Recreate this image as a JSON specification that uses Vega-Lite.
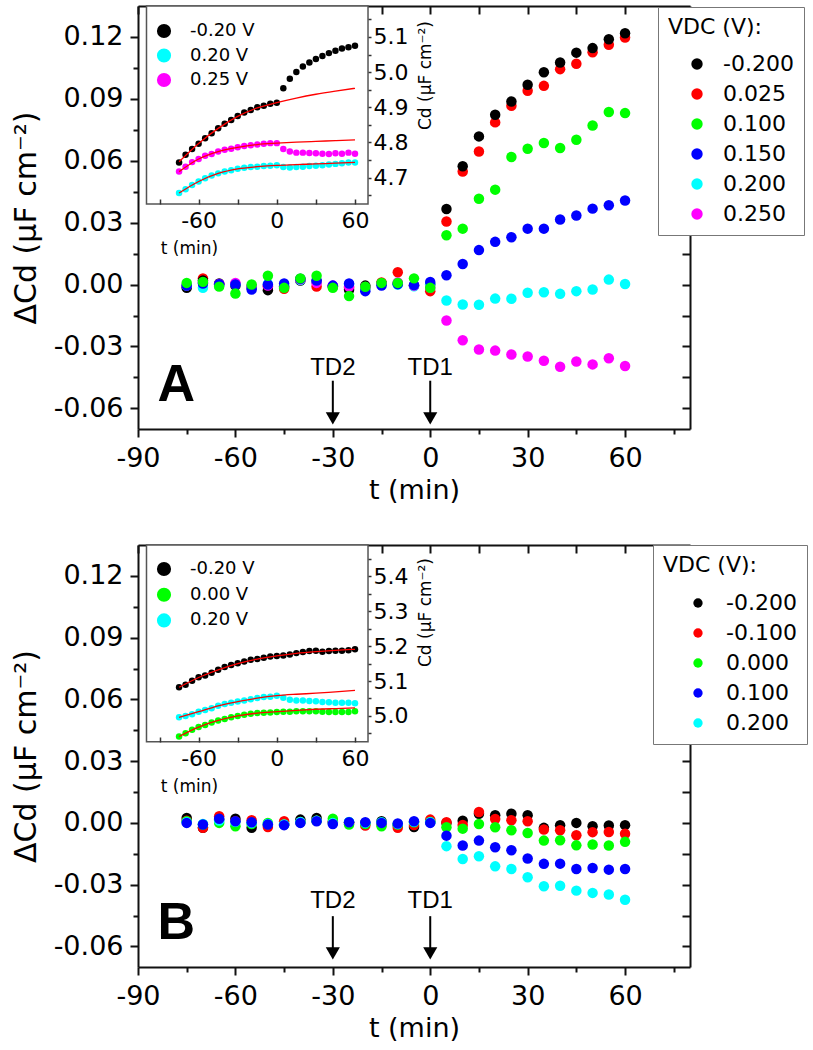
{
"$schema":"https://vega.github.io/schema/vega-lite/v6.json",
"background":"white",
"padding":{"left":11,"top":5,"right":0,"bottom":0},
"config":{"font":"DejaVu Sans","view":{"stroke":null},
"axis":{"labelFont":"DejaVu Sans","titleFont":"DejaVu Sans","labelColor":"#000","titleColor":"#000","domainColor":"#111","tickColor":"#111","grid":false,"titleFontWeight":"normal"},
"legend":{"labelFont":"DejaVu Sans","titleFont":"DejaVu Sans","labelColor":"#000","titleColor":"#000"}},
"datasets":{
"mainA":[
{"t":-75,"s":"0.025","c":-0.001},{"t":-70,"s":"0.025","c":0.003},{"t":-65,"s":"0.025","c":0},{"t":-60,"s":"0.025","c":0.0003},{"t":-55,"s":"0.025","c":-0.0015},{"t":-50,"s":"0.025","c":-0.001},{"t":-45,"s":"0.025","c":-0.002},{"t":-40,"s":"0.025","c":0.0025},{"t":-35,"s":"0.025","c":-0.001},{"t":-30,"s":"0.025","c":-0.0008},{"t":-25,"s":"0.025","c":-0.0015},{"t":-20,"s":"0.025","c":-0.0015},{"t":-15,"s":"0.025","c":0.001},{"t":-10,"s":"0.025","c":0.006},{"t":-5,"s":"0.025","c":-0.0005},{"t":0,"s":"0.025","c":-0.0032},{"t":5,"s":"0.025","c":0.0306},{"t":10,"s":"0.025","c":0.0548},{"t":15,"s":"0.025","c":0.0645},{"t":20,"s":"0.025","c":0.0786},{"t":25,"s":"0.025","c":0.0866},{"t":30,"s":"0.025","c":0.0939},{"t":35,"s":"0.025","c":0.0963},{"t":40,"s":"0.025","c":0.1044},{"t":45,"s":"0.025","c":0.107},{"t":50,"s":"0.025","c":0.1126},{"t":55,"s":"0.025","c":0.1162},{"t":60,"s":"0.025","c":0.1197},
{"t":-75,"s":"-0.200","c":-0.0016},{"t":-70,"s":"-0.200","c":0.002},{"t":-65,"s":"-0.200","c":0.0005},{"t":-60,"s":"-0.200","c":-0.0005},{"t":-55,"s":"-0.200","c":-0.001},{"t":-50,"s":"-0.200","c":-0.0027},{"t":-45,"s":"-0.200","c":-0.001},{"t":-40,"s":"-0.200","c":0.002},{"t":-35,"s":"-0.200","c":0.0015},{"t":-30,"s":"-0.200","c":-0.001},{"t":-25,"s":"-0.200","c":-0.0025},{"t":-20,"s":"-0.200","c":-0.0005},{"t":-15,"s":"-0.200","c":0.0005},{"t":-10,"s":"-0.200","c":0.0005},{"t":-5,"s":"-0.200","c":-0.0005},{"t":0,"s":"-0.200","c":0},{"t":5,"s":"-0.200","c":0.0366},{"t":10,"s":"-0.200","c":0.0573},{"t":15,"s":"-0.200","c":0.0718},{"t":20,"s":"-0.200","c":0.0823},{"t":25,"s":"-0.200","c":0.0887},{"t":30,"s":"-0.200","c":0.0968},{"t":35,"s":"-0.200","c":0.1029},{"t":40,"s":"-0.200","c":0.1076},{"t":45,"s":"-0.200","c":0.1124},{"t":50,"s":"-0.200","c":0.1146},{"t":55,"s":"-0.200","c":0.1189},{"t":60,"s":"-0.200","c":0.1218},
{"t":-75,"s":"0.200","c":-0.0005},{"t":-70,"s":"0.200","c":-0.0016},{"t":-65,"s":"0.200","c":-0.0005},{"t":-60,"s":"0.200","c":0.0002},{"t":-55,"s":"0.200","c":-0.0012},{"t":-50,"s":"0.200","c":0.0003},{"t":-45,"s":"0.200","c":-0.0005},{"t":-40,"s":"0.200","c":0.0022},{"t":-35,"s":"0.200","c":0.0012},{"t":-30,"s":"0.200","c":-0.001},{"t":-25,"s":"0.200","c":0.0002},{"t":-20,"s":"0.200","c":-0.002},{"t":-15,"s":"0.200","c":0.0002},{"t":-10,"s":"0.200","c":0},{"t":-5,"s":"0.200","c":-0.0008},{"t":0,"s":"0.200","c":0},{"t":5,"s":"0.200","c":-0.0077},{"t":10,"s":"0.200","c":-0.0097},{"t":15,"s":"0.200","c":-0.0098},{"t":20,"s":"0.200","c":-0.0068},{"t":25,"s":"0.200","c":-0.0069},{"t":30,"s":"0.200","c":-0.004},{"t":35,"s":"0.200","c":-0.0037},{"t":40,"s":"0.200","c":-0.0045},{"t":45,"s":"0.200","c":-0.0032},{"t":50,"s":"0.200","c":-0.0024},{"t":55,"s":"0.200","c":0.0024},{"t":60,"s":"0.200","c":0.0003},
{"t":-75,"s":"0.250","c":-0.0003},{"t":-70,"s":"0.250","c":0.001},{"t":-65,"s":"0.250","c":0.0003},{"t":-60,"s":"0.250","c":0.0008},{"t":-55,"s":"0.250","c":-0.0008},{"t":-50,"s":"0.250","c":-0.0005},{"t":-45,"s":"0.250","c":-0.001},{"t":-40,"s":"0.250","c":0.0025},{"t":-35,"s":"0.250","c":0.0008},{"t":-30,"s":"0.250","c":-0.0005},{"t":-25,"s":"0.250","c":-0.001},{"t":-20,"s":"0.250","c":-0.0012},{"t":-15,"s":"0.250","c":0.0003},{"t":-10,"s":"0.250","c":0.001},{"t":-5,"s":"0.250","c":-0.0005},{"t":0,"s":"0.250","c":-0.0015},{"t":5,"s":"0.250","c":-0.0174},{"t":10,"s":"0.250","c":-0.027},{"t":15,"s":"0.250","c":-0.0315},{"t":20,"s":"0.250","c":-0.032},{"t":25,"s":"0.250","c":-0.0339},{"t":30,"s":"0.250","c":-0.0349},{"t":35,"s":"0.250","c":-0.0369},{"t":40,"s":"0.250","c":-0.0398},{"t":45,"s":"0.250","c":-0.0373},{"t":50,"s":"0.250","c":-0.0387},{"t":55,"s":"0.250","c":-0.0357},{"t":60,"s":"0.250","c":-0.0395},
{"t":-75,"s":"0.150","c":-0.0005},{"t":-70,"s":"0.150","c":0.0005},{"t":-65,"s":"0.150","c":0.0002},{"t":-60,"s":"0.150","c":0},{"t":-55,"s":"0.150","c":-0.0024},{"t":-50,"s":"0.150","c":0},{"t":-45,"s":"0.150","c":0.0005},{"t":-40,"s":"0.150","c":0.0028},{"t":-35,"s":"0.150","c":0.002},{"t":-30,"s":"0.150","c":-0.0005},{"t":-25,"s":"0.150","c":0.0005},{"t":-20,"s":"0.150","c":-0.0032},{"t":-15,"s":"0.150","c":-0.0005},{"t":-10,"s":"0.150","c":0.0002},{"t":-5,"s":"0.150","c":-0.0002},{"t":0,"s":"0.150","c":0.0013},{"t":5,"s":"0.150","c":0.0045},{"t":10,"s":"0.150","c":0.01},{"t":15,"s":"0.150","c":0.0167},{"t":20,"s":"0.150","c":0.0207},{"t":25,"s":"0.150","c":0.0229},{"t":30,"s":"0.150","c":0.0271},{"t":35,"s":"0.150","c":0.0271},{"t":40,"s":"0.150","c":0.0315},{"t":45,"s":"0.150","c":0.0335},{"t":50,"s":"0.150","c":0.0368},{"t":55,"s":"0.150","c":0.0384},{"t":60,"s":"0.150","c":0.0407},
{"t":-75,"s":"0.100","c":0.0008},{"t":-70,"s":"0.100","c":0.0013},{"t":-65,"s":"0.100","c":-0.001},{"t":-60,"s":"0.100","c":-0.0043},{"t":-55,"s":"0.100","c":0},{"t":-50,"s":"0.100","c":0.0043},{"t":-45,"s":"0.100","c":-0.0016},{"t":-40,"s":"0.100","c":0.003},{"t":-35,"s":"0.100","c":0.0043},{"t":-30,"s":"0.100","c":-0.0016},{"t":-25,"s":"0.100","c":-0.0056},{"t":-20,"s":"0.100","c":-0.0011},{"t":-15,"s":"0.100","c":0.0008},{"t":-10,"s":"0.100","c":0.0008},{"t":-5,"s":"0.100","c":0.003},{"t":0,"s":"0.100","c":-0.0016},{"t":5,"s":"0.100","c":0.0239},{"t":10,"s":"0.100","c":0.0271},{"t":15,"s":"0.100","c":0.0416},{"t":20,"s":"0.100","c":0.046},{"t":25,"s":"0.100","c":0.0618},{"t":30,"s":"0.100","c":0.0658},{"t":35,"s":"0.100","c":0.0686},{"t":40,"s":"0.100","c":0.0662},{"t":45,"s":"0.100","c":0.0702},{"t":50,"s":"0.100","c":0.0771},{"t":55,"s":"0.100","c":0.0836},{"t":60,"s":"0.100","c":0.0831}
],
"insetA":[
{"t":-75,"s":"-0.20 V","c":4.743},{"t":-70,"s":"-0.20 V","c":4.765},{"t":-65,"s":"-0.20 V","c":4.781},{"t":-60,"s":"-0.20 V","c":4.796},{"t":-55,"s":"-0.20 V","c":4.812},{"t":-50,"s":"-0.20 V","c":4.826},{"t":-45,"s":"-0.20 V","c":4.84},{"t":-40,"s":"-0.20 V","c":4.853},{"t":-35,"s":"-0.20 V","c":4.864},{"t":-30,"s":"-0.20 V","c":4.875},{"t":-25,"s":"-0.20 V","c":4.885},{"t":-20,"s":"-0.20 V","c":4.892},{"t":-15,"s":"-0.20 V","c":4.9},{"t":-10,"s":"-0.20 V","c":4.904},{"t":-5,"s":"-0.20 V","c":4.91},{"t":0,"s":"-0.20 V","c":4.913},{"t":5,"s":"-0.20 V","c":4.954},{"t":10,"s":"-0.20 V","c":4.981},{"t":15,"s":"-0.20 V","c":5.0},{"t":20,"s":"-0.20 V","c":5.016},{"t":25,"s":"-0.20 V","c":5.027},{"t":30,"s":"-0.20 V","c":5.037},{"t":35,"s":"-0.20 V","c":5.046},{"t":40,"s":"-0.20 V","c":5.054},{"t":45,"s":"-0.20 V","c":5.061},{"t":50,"s":"-0.20 V","c":5.067},{"t":55,"s":"-0.20 V","c":5.071},{"t":60,"s":"-0.20 V","c":5.075},
{"t":-75,"s":"0.20 V","c":4.656},{"t":-70,"s":"0.20 V","c":4.667},{"t":-65,"s":"0.20 V","c":4.679},{"t":-60,"s":"0.20 V","c":4.689},{"t":-55,"s":"0.20 V","c":4.698},{"t":-50,"s":"0.20 V","c":4.706},{"t":-45,"s":"0.20 V","c":4.712},{"t":-40,"s":"0.20 V","c":4.717},{"t":-35,"s":"0.20 V","c":4.721},{"t":-30,"s":"0.20 V","c":4.725},{"t":-25,"s":"0.20 V","c":4.728},{"t":-20,"s":"0.20 V","c":4.73},{"t":-15,"s":"0.20 V","c":4.731},{"t":-10,"s":"0.20 V","c":4.733},{"t":-5,"s":"0.20 V","c":4.734},{"t":0,"s":"0.20 V","c":4.735},{"t":5,"s":"0.20 V","c":4.73},{"t":10,"s":"0.20 V","c":4.729},{"t":15,"s":"0.20 V","c":4.73},{"t":20,"s":"0.20 V","c":4.731},{"t":25,"s":"0.20 V","c":4.733},{"t":30,"s":"0.20 V","c":4.734},{"t":35,"s":"0.20 V","c":4.735},{"t":40,"s":"0.20 V","c":4.737},{"t":45,"s":"0.20 V","c":4.739},{"t":50,"s":"0.20 V","c":4.741},{"t":55,"s":"0.20 V","c":4.743},{"t":60,"s":"0.20 V","c":4.743},
{"t":-75,"s":"0.25 V","c":4.717},{"t":-70,"s":"0.25 V","c":4.731},{"t":-65,"s":"0.25 V","c":4.744},{"t":-60,"s":"0.25 V","c":4.753},{"t":-55,"s":"0.25 V","c":4.762},{"t":-50,"s":"0.25 V","c":4.767},{"t":-45,"s":"0.25 V","c":4.774},{"t":-40,"s":"0.25 V","c":4.779},{"t":-35,"s":"0.25 V","c":4.782},{"t":-30,"s":"0.25 V","c":4.786},{"t":-25,"s":"0.25 V","c":4.79},{"t":-20,"s":"0.25 V","c":4.792},{"t":-15,"s":"0.25 V","c":4.794},{"t":-10,"s":"0.25 V","c":4.796},{"t":-5,"s":"0.25 V","c":4.798},{"t":0,"s":"0.25 V","c":4.798},{"t":5,"s":"0.25 V","c":4.781},{"t":10,"s":"0.25 V","c":4.774},{"t":15,"s":"0.25 V","c":4.771},{"t":20,"s":"0.25 V","c":4.771},{"t":25,"s":"0.25 V","c":4.77},{"t":30,"s":"0.25 V","c":4.769},{"t":35,"s":"0.25 V","c":4.768},{"t":40,"s":"0.25 V","c":4.767},{"t":45,"s":"0.25 V","c":4.769},{"t":50,"s":"0.25 V","c":4.768},{"t":55,"s":"0.25 V","c":4.771},{"t":60,"s":"0.25 V","c":4.768}
],
"fitA":[
{"t":-75,"s":"b","c":4.745},{"t":-60,"s":"b","c":4.797},{"t":-45,"s":"b","c":4.84},{"t":-30,"s":"b","c":4.874},{"t":-15,"s":"b","c":4.898},{"t":0,"s":"b","c":4.913},{"t":15,"s":"b","c":4.926},{"t":30,"s":"b","c":4.937},{"t":45,"s":"b","c":4.946},{"t":60,"s":"b","c":4.954},
{"t":-75,"s":"m","c":4.717},{"t":-60,"s":"m","c":4.753},{"t":-45,"s":"m","c":4.774},{"t":-30,"s":"m","c":4.786},{"t":-15,"s":"m","c":4.794},{"t":0,"s":"m","c":4.798},{"t":15,"s":"m","c":4.801},{"t":30,"s":"m","c":4.803},{"t":45,"s":"m","c":4.805},{"t":60,"s":"m","c":4.807},
{"t":-75,"s":"c","c":4.656},{"t":-60,"s":"c","c":4.689},{"t":-45,"s":"c","c":4.712},{"t":-30,"s":"c","c":4.725},{"t":-15,"s":"c","c":4.731},{"t":0,"s":"c","c":4.735},{"t":15,"s":"c","c":4.737},{"t":30,"s":"c","c":4.739},{"t":45,"s":"c","c":4.741},{"t":60,"s":"c","c":4.743}
],
"mainB":[
{"t":-75,"s":"-0.200","c":0.0024},{"t":-70,"s":"-0.200","c":-0.0024},{"t":-65,"s":"-0.200","c":0.0016},{"t":-60,"s":"-0.200","c":0.002},{"t":-55,"s":"-0.200","c":-0.0024},{"t":-50,"s":"-0.200","c":-0.001},{"t":-45,"s":"-0.200","c":-0.0005},{"t":-40,"s":"-0.200","c":0.0016},{"t":-35,"s":"-0.200","c":0.0024},{"t":-30,"s":"-0.200","c":0.0005},{"t":-25,"s":"-0.200","c":0.0003},{"t":-20,"s":"-0.200","c":0},{"t":-15,"s":"-0.200","c":0.0008},{"t":-10,"s":"-0.200","c":-0.001},{"t":-5,"s":"-0.200","c":-0.002},{"t":0,"s":"-0.200","c":0.0005},{"t":5,"s":"-0.200","c":0},{"t":10,"s":"-0.200","c":0.0011},{"t":15,"s":"-0.200","c":0.0044},{"t":20,"s":"-0.200","c":0.0037},{"t":25,"s":"-0.200","c":0.0045},{"t":30,"s":"-0.200","c":0.0037},{"t":35,"s":"-0.200","c":-0.0024},{"t":40,"s":"-0.200","c":-0.0011},{"t":45,"s":"-0.200","c":0},{"t":50,"s":"-0.200","c":-0.0016},{"t":55,"s":"-0.200","c":-0.0013},{"t":60,"s":"-0.200","c":-0.0011},
{"t":-75,"s":"-0.100","c":0.001},{"t":-70,"s":"-0.100","c":-0.0024},{"t":-65,"s":"-0.100","c":0.0032},{"t":-60,"s":"-0.100","c":0.0008},{"t":-55,"s":"-0.100","c":0.0013},{"t":-50,"s":"-0.100","c":-0.002},{"t":-45,"s":"-0.100","c":0.0008},{"t":-40,"s":"-0.100","c":0.0005},{"t":-35,"s":"-0.100","c":0.001},{"t":-30,"s":"-0.100","c":0.0002},{"t":-25,"s":"-0.100","c":0},{"t":-20,"s":"-0.100","c":-0.0013},{"t":-15,"s":"-0.100","c":-0.0005},{"t":-10,"s":"-0.100","c":-0.0024},{"t":-5,"s":"-0.100","c":-0.001},{"t":0,"s":"-0.100","c":0.0016},{"t":5,"s":"-0.100","c":0.0003},{"t":10,"s":"-0.100","c":-0.001},{"t":15,"s":"-0.100","c":0.0053},{"t":20,"s":"-0.100","c":0.0019},{"t":25,"s":"-0.100","c":0.0013},{"t":30,"s":"-0.100","c":0.0008},{"t":35,"s":"-0.100","c":-0.0032},{"t":40,"s":"-0.100","c":-0.0036},{"t":45,"s":"-0.100","c":-0.006},{"t":50,"s":"-0.100","c":-0.0045},{"t":55,"s":"-0.100","c":-0.0044},{"t":60,"s":"-0.100","c":-0.0053},
{"t":-75,"s":"0.000","c":0.0008},{"t":-70,"s":"0.000","c":-0.0008},{"t":-65,"s":"0.000","c":0},{"t":-60,"s":"0.000","c":-0.0016},{"t":-55,"s":"0.000","c":-0.0005},{"t":-50,"s":"0.000","c":0},{"t":-45,"s":"0.000","c":-0.0008},{"t":-40,"s":"0.000","c":0.0003},{"t":-35,"s":"0.000","c":0.001},{"t":-30,"s":"0.000","c":0.002},{"t":-25,"s":"0.000","c":-0.0008},{"t":-20,"s":"0.000","c":-0.0005},{"t":-15,"s":"0.000","c":-0.0016},{"t":-10,"s":"0.000","c":-0.0008},{"t":-5,"s":"0.000","c":0.0003},{"t":0,"s":"0.000","c":0.0005},{"t":5,"s":"0.000","c":-0.0021},{"t":10,"s":"0.000","c":-0.0028},{"t":15,"s":"0.000","c":-0.0005},{"t":20,"s":"0.000","c":-0.0021},{"t":25,"s":"0.000","c":-0.0036},{"t":30,"s":"0.000","c":-0.0049},{"t":35,"s":"0.000","c":-0.0086},{"t":40,"s":"0.000","c":-0.0084},{"t":45,"s":"0.000","c":-0.0109},{"t":50,"s":"0.000","c":-0.0105},{"t":55,"s":"0.000","c":-0.011},{"t":60,"s":"0.000","c":-0.0092},
{"t":-75,"s":"0.200","c":0.0003},{"t":-70,"s":"0.200","c":-0.0005},{"t":-65,"s":"0.200","c":0.0012},{"t":-60,"s":"0.200","c":0.0005},{"t":-55,"s":"0.200","c":0},{"t":-50,"s":"0.200","c":-0.0005},{"t":-45,"s":"0.200","c":-0.0008},{"t":-40,"s":"0.200","c":0.0005},{"t":-35,"s":"0.200","c":0.001},{"t":-30,"s":"0.200","c":0},{"t":-25,"s":"0.200","c":0.0005},{"t":-20,"s":"0.200","c":0},{"t":-15,"s":"0.200","c":0.0003},{"t":-10,"s":"0.200","c":-0.0005},{"t":-5,"s":"0.200","c":0.0005},{"t":0,"s":"0.200","c":0.0003},{"t":5,"s":"0.200","c":-0.0113},{"t":10,"s":"0.200","c":-0.0175},{"t":15,"s":"0.200","c":-0.0162},{"t":20,"s":"0.200","c":-0.0211},{"t":25,"s":"0.200","c":-0.0224},{"t":30,"s":"0.200","c":-0.0264},{"t":35,"s":"0.200","c":-0.0308},{"t":40,"s":"0.200","c":-0.0305},{"t":45,"s":"0.200","c":-0.0329},{"t":50,"s":"0.200","c":-0.034},{"t":55,"s":"0.200","c":-0.0348},{"t":60,"s":"0.200","c":-0.0373},
{"t":-75,"s":"0.100","c":0},{"t":-70,"s":"0.100","c":-0.0008},{"t":-65,"s":"0.100","c":0.002},{"t":-60,"s":"0.100","c":0.0008},{"t":-55,"s":"0.100","c":0.0003},{"t":-50,"s":"0.100","c":-0.0008},{"t":-45,"s":"0.100","c":-0.0011},{"t":-40,"s":"0.100","c":0},{"t":-35,"s":"0.100","c":0.0008},{"t":-30,"s":"0.100","c":-0.0005},{"t":-25,"s":"0.100","c":0.0003},{"t":-20,"s":"0.100","c":0.0003},{"t":-15,"s":"0.100","c":0},{"t":-10,"s":"0.100","c":-0.0003},{"t":-5,"s":"0.100","c":0.0008},{"t":0,"s":"0.100","c":0},{"t":5,"s":"0.100","c":-0.0062},{"t":10,"s":"0.100","c":-0.011},{"t":15,"s":"0.100","c":-0.0086},{"t":20,"s":"0.100","c":-0.0118},{"t":25,"s":"0.100","c":-0.0133},{"t":30,"s":"0.100","c":-0.0173},{"t":35,"s":"0.100","c":-0.0199},{"t":40,"s":"0.100","c":-0.0198},{"t":45,"s":"0.100","c":-0.0224},{"t":50,"s":"0.100","c":-0.0219},{"t":55,"s":"0.100","c":-0.0227},{"t":60,"s":"0.100","c":-0.0224}
],
"insetB":[
{"t":-75,"s":"-0.20 V","c":5.082},{"t":-70,"s":"-0.20 V","c":5.089},{"t":-65,"s":"-0.20 V","c":5.101},{"t":-60,"s":"-0.20 V","c":5.111},{"t":-55,"s":"-0.20 V","c":5.116},{"t":-50,"s":"-0.20 V","c":5.124},{"t":-45,"s":"-0.20 V","c":5.132},{"t":-40,"s":"-0.20 V","c":5.14},{"t":-35,"s":"-0.20 V","c":5.146},{"t":-30,"s":"-0.20 V","c":5.151},{"t":-25,"s":"-0.20 V","c":5.156},{"t":-20,"s":"-0.20 V","c":5.161},{"t":-15,"s":"-0.20 V","c":5.163},{"t":-10,"s":"-0.20 V","c":5.167},{"t":-5,"s":"-0.20 V","c":5.17},{"t":0,"s":"-0.20 V","c":5.172},{"t":5,"s":"-0.20 V","c":5.173},{"t":10,"s":"-0.20 V","c":5.176},{"t":15,"s":"-0.20 V","c":5.18},{"t":20,"s":"-0.20 V","c":5.183},{"t":25,"s":"-0.20 V","c":5.186},{"t":30,"s":"-0.20 V","c":5.187},{"t":35,"s":"-0.20 V","c":5.184},{"t":40,"s":"-0.20 V","c":5.186},{"t":45,"s":"-0.20 V","c":5.187},{"t":50,"s":"-0.20 V","c":5.187},{"t":55,"s":"-0.20 V","c":5.188},{"t":60,"s":"-0.20 V","c":5.191},
{"t":-75,"s":"0.00 V","c":4.941},{"t":-70,"s":"0.00 V","c":4.95},{"t":-65,"s":"0.00 V","c":4.96},{"t":-60,"s":"0.00 V","c":4.968},{"t":-55,"s":"0.00 V","c":4.974},{"t":-50,"s":"0.00 V","c":4.981},{"t":-45,"s":"0.00 V","c":4.987},{"t":-40,"s":"0.00 V","c":4.991},{"t":-35,"s":"0.00 V","c":4.996},{"t":-30,"s":"0.00 V","c":5.0},{"t":-25,"s":"0.00 V","c":5.003},{"t":-20,"s":"0.00 V","c":5.006},{"t":-15,"s":"0.00 V","c":5.008},{"t":-10,"s":"0.00 V","c":5.009},{"t":-5,"s":"0.00 V","c":5.01},{"t":0,"s":"0.00 V","c":5.011},{"t":5,"s":"0.00 V","c":5.012},{"t":10,"s":"0.00 V","c":5.012},{"t":15,"s":"0.00 V","c":5.013},{"t":20,"s":"0.00 V","c":5.013},{"t":25,"s":"0.00 V","c":5.013},{"t":30,"s":"0.00 V","c":5.013},{"t":35,"s":"0.00 V","c":5.012},{"t":40,"s":"0.00 V","c":5.011},{"t":45,"s":"0.00 V","c":5.011},{"t":50,"s":"0.00 V","c":5.011},{"t":55,"s":"0.00 V","c":5.011},{"t":60,"s":"0.00 V","c":5.013},
{"t":-75,"s":"0.20 V","c":4.996},{"t":-70,"s":"0.20 V","c":5.0},{"t":-65,"s":"0.20 V","c":5.005},{"t":-60,"s":"0.20 V","c":5.012},{"t":-55,"s":"0.20 V","c":5.017},{"t":-50,"s":"0.20 V","c":5.022},{"t":-45,"s":"0.20 V","c":5.029},{"t":-40,"s":"0.20 V","c":5.034},{"t":-35,"s":"0.20 V","c":5.038},{"t":-30,"s":"0.20 V","c":5.041},{"t":-25,"s":"0.20 V","c":5.044},{"t":-20,"s":"0.20 V","c":5.048},{"t":-15,"s":"0.20 V","c":5.051},{"t":-10,"s":"0.20 V","c":5.054},{"t":-5,"s":"0.20 V","c":5.055},{"t":0,"s":"0.20 V","c":5.058},{"t":5,"s":"0.20 V","c":5.052},{"t":10,"s":"0.20 V","c":5.046},{"t":15,"s":"0.20 V","c":5.044},{"t":20,"s":"0.20 V","c":5.044},{"t":25,"s":"0.20 V","c":5.043},{"t":30,"s":"0.20 V","c":5.042},{"t":35,"s":"0.20 V","c":5.04},{"t":40,"s":"0.20 V","c":5.039},{"t":45,"s":"0.20 V","c":5.038},{"t":50,"s":"0.20 V","c":5.038},{"t":55,"s":"0.20 V","c":5.038},{"t":60,"s":"0.20 V","c":5.036}
],
"fitB":[
{"t":-75,"s":"b","c":5.082},{"t":-60,"s":"b","c":5.11},{"t":-45,"s":"b","c":5.132},{"t":-30,"s":"b","c":5.15},{"t":-15,"s":"b","c":5.163},{"t":0,"s":"b","c":5.172},{"t":15,"s":"b","c":5.179},{"t":30,"s":"b","c":5.184},{"t":45,"s":"b","c":5.188},{"t":60,"s":"b","c":5.191},
{"t":-75,"s":"g","c":4.941},{"t":-60,"s":"g","c":4.968},{"t":-45,"s":"g","c":4.987},{"t":-30,"s":"g","c":5.0},{"t":-15,"s":"g","c":5.008},{"t":0,"s":"g","c":5.012},{"t":15,"s":"g","c":5.016},{"t":30,"s":"g","c":5.019},{"t":45,"s":"g","c":5.021},{"t":60,"s":"g","c":5.023},
{"t":-75,"s":"c","c":4.996},{"t":-60,"s":"c","c":5.012},{"t":-45,"s":"c","c":5.029},{"t":-30,"s":"c","c":5.041},{"t":-15,"s":"c","c":5.051},{"t":0,"s":"c","c":5.058},{"t":15,"s":"c","c":5.062},{"t":30,"s":"c","c":5.065},{"t":45,"s":"c","c":5.069},{"t":60,"s":"c","c":5.073}
]
},
"spacing":116,
"bounds":"flush",
"resolve":{"scale":{"color":"independent"},"legend":{"color":"independent"}},
"vconcat":[
{
"width":552,"height":423,
"resolve":{"scale":{"x":"independent","y":"independent","color":"independent"},"axis":{"x":"independent","y":"independent"},"legend":{"color":"independent"}},
"layer":[
{"data":{"name":"mainA"},
"mark":{"type":"point","filled":true,"size":110,"opacity":1,"strokeWidth":0},
"encoding":{
"x":{"field":"t","type":"quantitative","scale":{"domain":[-90,80],"nice":false,"zero":false},"axis":{"orient":"bottom","values":[-90,-60,-30,0,30,60],"labelExpr":"(datum.value < 0 ? '-' : '') + format(abs(datum.value), 'd')","labelFontSize":27,"labelPadding":8,"labelFlush":false,"labelOverlap":false,"tickSize":8,"tickWidth":2,"domainWidth":2,"title":"t (min)","titleFontSize":27,"titlePadding":6}},
"y":{"field":"c","type":"quantitative","scale":{"domain":[-0.07,0.135],"nice":false,"zero":false},"axis":{"orient":"left","values":[-0.06,-0.03,0,0.03,0.06,0.09,0.12],"labelExpr":"(datum.value < -0.0001 ? '-' : '') + format(abs(datum.value), '.2f')","labelFontSize":27,"labelPadding":7,"labelOverlap":false,"tickSize":8,"tickWidth":2,"domainWidth":2,"title":"ΔCd (μF cm⁻²)","titleFontSize":30,"titlePadding":12}},
"color":{"field":"s","type":"nominal","scale":{"domain":["-0.200","0.025","0.100","0.150","0.200","0.250"],"range":["#000000","#ff0000","#00ff00","#0000ff","#00ffff","#ff00ff"]},
"legend":{"orient":"none","legendX":520,"legendY":1,"title":"VDC (V):","titleFontSize":22,"titleFontWeight":"normal","titlePadding":14,"labelFontSize":22,"symbolType":"circle","symbolSize":130,"symbolStrokeWidth":0,"symbolOffset":18,"labelOffset":15,"rowPadding":8,"padding":10,"strokeColor":"#777","fillColor":"white","labelLimit":200,"labelExpr":"indexof(datum.label, '-') === 0 ? datum.label : '\u00a0' + datum.label"}}
}},
{"data":{"values":[{}]},
"mark":{"type":"point","opacity":0},
"encoding":{
"x":{"datum":0,"type":"quantitative","scale":{"domain":[-90,80],"nice":false,"zero":false},"axis":{"orient":"bottom","values":[-75,-45,-15,15,45,75],"labels":false,"tickSize":5,"tickWidth":2,"domain":false,"title":null}},
"y":{"datum":0,"type":"quantitative","scale":{"domain":[-0.07,0.135],"nice":false,"zero":false},"axis":{"orient":"left","values":[-0.045,-0.015,0.015,0.045,0.075,0.105],"labels":false,"tickSize":5,"tickWidth":2,"domain":false,"title":null}}
}},
{"data":{"values":[{}]},
"mark":{"type":"point","opacity":0},
"encoding":{
"x":{"datum":0,"type":"quantitative","scale":{"domain":[-90,80],"nice":false,"zero":false},"axis":{"orient":"top","values":[-90,-75,-60,-45,-30,-15,0,15,30,45,60,75],"labels":false,"tickSize":-8,"tickWidth":2,"domainWidth":2,"title":null}},
"y":{"datum":0,"type":"quantitative","scale":{"domain":[-0.07,0.135],"nice":false,"zero":false},"axis":{"orient":"right","values":[-0.06,-0.045,-0.03,-0.015,0,0.015,0.03,0.045,0.06,0.075,0.09,0.105,0.12],"labels":false,"tickSize":-8,"tickWidth":2,"domainWidth":2,"title":null}}
}},
{"data":{"values":[{"label":"TD2","t":-30,"c":-0.0436},{"label":"TD1","t":0,"c":-0.0436}]},
"mark":{"type":"text","font":"Liberation Sans","fontSize":24,"baseline":"alphabetic","align":"center","color":"#000"},
"encoding":{
"x":{"field":"t","type":"quantitative","scale":{"domain":[-90,80],"nice":false,"zero":false},"axis":null},
"y":{"field":"c","type":"quantitative","scale":{"domain":[-0.07,0.135],"nice":false,"zero":false},"axis":null},
"text":{"field":"label"}}},
{"data":{"values":[{"t":-30,"c":-0.0466,"c2":-0.063},{"t":0,"c":-0.0466,"c2":-0.063}]},
"mark":{"type":"rule","color":"#000","strokeWidth":2},
"encoding":{
"x":{"field":"t","type":"quantitative","scale":{"domain":[-90,80],"nice":false,"zero":false},"axis":null},
"y":{"field":"c","type":"quantitative","scale":{"domain":[-0.07,0.135],"nice":false,"zero":false},"axis":null},
"y2":{"field":"c2"}}},
{"data":{"values":[{"t":-30,"c":-0.0649},{"t":0,"c":-0.0649}]},
"mark":{"type":"point","shape":"triangle-down","filled":true,"size":200,"color":"#000","opacity":1},
"encoding":{
"x":{"field":"t","type":"quantitative","scale":{"domain":[-90,80],"nice":false,"zero":false},"axis":null},
"y":{"field":"c","type":"quantitative","scale":{"domain":[-0.07,0.135],"nice":false,"zero":false},"axis":null}}},
{"data":{"values":[{"label":"A","t":-84,"c":-0.0566}]},
"mark":{"type":"text","font":"Liberation Sans","fontSize":52,"fontWeight":"bold","baseline":"alphabetic","align":"left","color":"#000"},
"encoding":{
"x":{"field":"t","type":"quantitative","scale":{"domain":[-90,80],"nice":false,"zero":false},"axis":null},
"y":{"field":"c","type":"quantitative","scale":{"domain":[-0.07,0.135],"nice":false,"zero":false},"axis":null},
"text":{"field":"label"}}},
{"data":{"values":[{}]},
"mark":{"type":"rect","fill":"white","stroke":"#555","strokeWidth":1.5},
"encoding":{
"x":{"datum":-100,"type":"quantitative","scale":{"domain":[-106.52,317.1],"nice":false,"zero":false},"axis":{"orient":"bottom","offset":-225,"values":[-60,0,60],"labelExpr":"(datum.value < 0 ? '-' : '') + format(abs(datum.value), 'd')","ticks":false,"domain":false,"labelFontSize":22,"labelPadding":6,"labelFlush":false,"labelOverlap":false,"title":"t (min)","titleFontSize":17,"titleX":51,"titleY":36,"zindex":1}},
"x2":{"datum":70},
"y":{"datum":4.625,"type":"quantitative","scale":{"domain":[3.985,5.188],"nice":false,"zero":false},"axis":{"orient":"right","offset":-322,"values":[4.65,4.7,4.75,4.8,4.85,4.9,4.95,5.0,5.05,5.1,5.15],"labelExpr":"abs(round(datum.value*100)) % 10 === 0 ? format(datum.value, '.1f') : ''","tickSize":3,"tickWidth":1.5,"tickColor":"#333","domain":false,"labelFontSize":22,"labelPadding":2,"labelOverlap":false,"title":"Cd (μF cm⁻²)","titleFontSize":17,"titleAngle":270,"titleBaseline":"top","titleY":69,"titlePadding":10,"zindex":1}},
"y2":{"datum":5.188}}},
{"data":{"name":"insetA"},
"mark":{"type":"point","filled":true,"size":42,"opacity":1,"strokeWidth":0},
"encoding":{
"x":{"field":"t","type":"quantitative","scale":{"domain":[-106.52,317.1],"nice":false,"zero":false},"axis":null},
"y":{"field":"c","type":"quantitative","scale":{"domain":[3.985,5.188],"nice":false,"zero":false},"axis":null},
"color":{"field":"s","type":"nominal","scale":{"domain":["-0.20 V","0.20 V","0.25 V"],"range":["#000000","#00ffff","#ff00ff"]},
"legend":{"orient":"none","legendX":17,"legendY":16,"title":null,"padding":0,"symbolType":"circle","symbolSize":200,"symbolStrokeWidth":0,"symbolOffset":0,"labelFontSize":18,"labelOffset":17,"rowPadding":6.5,"labelLimit":200,"labelExpr":"indexof(datum.label, '-') === 0 ? datum.label : '\u00a0' + datum.label"}}}},
{"data":{"name":"fitA"},
"mark":{"type":"line","color":"#ff0000","strokeWidth":1.3,"interpolate":"monotone"},
"encoding":{
"x":{"field":"t","type":"quantitative","scale":{"domain":[-106.52,317.1],"nice":false,"zero":false},"axis":{"orient":"bottom","offset":-225,"values":[-90,-60,-30,0,30,60],"labels":false,"tickSize":-5,"tickWidth":1.5,"tickColor":"#333","domain":false,"title":null,"zindex":1}},
"y":{"field":"c","type":"quantitative","scale":{"domain":[3.985,5.188],"nice":false,"zero":false},"axis":null},
"detail":{"field":"s"}}}
]
},
{
"width":552,"height":422,
"resolve":{"scale":{"x":"independent","y":"independent","color":"independent"},"axis":{"x":"independent","y":"independent"},"legend":{"color":"independent"}},
"layer":[
{"data":{"name":"mainB"},
"mark":{"type":"point","filled":true,"size":110,"opacity":1,"strokeWidth":0},
"encoding":{
"x":{"field":"t","type":"quantitative","scale":{"domain":[-90,80],"nice":false,"zero":false},"axis":{"orient":"bottom","values":[-90,-60,-30,0,30,60],"labelExpr":"(datum.value < 0 ? '-' : '') + format(abs(datum.value), 'd')","labelFontSize":27,"labelPadding":8,"labelFlush":false,"labelOverlap":false,"tickSize":8,"tickWidth":2,"domainWidth":2,"title":"t (min)","titleFontSize":27,"titlePadding":6}},
"y":{"field":"c","type":"quantitative","scale":{"domain":[-0.07,0.135],"nice":false,"zero":false},"axis":{"orient":"left","values":[-0.06,-0.03,0,0.03,0.06,0.09,0.12],"labelExpr":"(datum.value < -0.0001 ? '-' : '') + format(abs(datum.value), '.2f')","labelFontSize":27,"labelPadding":7,"labelOverlap":false,"tickSize":8,"tickWidth":2,"domainWidth":2,"title":"ΔCd (μF cm⁻²)","titleFontSize":30,"titlePadding":12}},
"color":{"field":"s","type":"nominal","scale":{"domain":["-0.200","-0.100","0.000","0.100","0.200"],"range":["#000000","#ff0000","#00ff00","#0000ff","#00ffff"]},
"legend":{"orient":"none","legendX":515,"legendY":0,"title":"VDC (V):","titleFontSize":22,"titleFontWeight":"normal","titlePadding":15,"labelFontSize":22,"symbolType":"circle","symbolSize":87,"symbolStrokeWidth":0,"symbolOffset":24,"labelOffset":17,"rowPadding":8,"padding":10,"strokeColor":"#777","fillColor":"white","labelLimit":200,"labelExpr":"indexof(datum.label, '-') === 0 ? datum.label : '\u00a0' + datum.label"}}
}},
{"data":{"values":[{}]},
"mark":{"type":"point","opacity":0},
"encoding":{
"x":{"datum":0,"type":"quantitative","scale":{"domain":[-90,80],"nice":false,"zero":false},"axis":{"orient":"bottom","values":[-75,-45,-15,15,45,75],"labels":false,"tickSize":5,"tickWidth":2,"domain":false,"title":null}},
"y":{"datum":0,"type":"quantitative","scale":{"domain":[-0.07,0.135],"nice":false,"zero":false},"axis":{"orient":"left","values":[-0.045,-0.015,0.015,0.045,0.075,0.105],"labels":false,"tickSize":5,"tickWidth":2,"domain":false,"title":null}}
}},
{"data":{"values":[{}]},
"mark":{"type":"point","opacity":0},
"encoding":{
"x":{"datum":0,"type":"quantitative","scale":{"domain":[-90,80],"nice":false,"zero":false},"axis":{"orient":"top","values":[-90,-75,-60,-45,-30,-15,0,15,30,45,60,75],"labels":false,"tickSize":-8,"tickWidth":2,"domainWidth":2,"title":null}},
"y":{"datum":0,"type":"quantitative","scale":{"domain":[-0.07,0.135],"nice":false,"zero":false},"axis":{"orient":"right","values":[-0.06,-0.045,-0.03,-0.015,0,0.015,0.03,0.045,0.06,0.075,0.09,0.105,0.12],"labels":false,"tickSize":-8,"tickWidth":2,"domainWidth":2,"title":null}}
}},
{"data":{"values":[{"label":"TD2","t":-30,"c":-0.0411},{"label":"TD1","t":0,"c":-0.0411}]},
"mark":{"type":"text","font":"Liberation Sans","fontSize":24,"baseline":"alphabetic","align":"center","color":"#000"},
"encoding":{
"x":{"field":"t","type":"quantitative","scale":{"domain":[-90,80],"nice":false,"zero":false},"axis":null},
"y":{"field":"c","type":"quantitative","scale":{"domain":[-0.07,0.135],"nice":false,"zero":false},"axis":null},
"text":{"field":"label"}}},
{"data":{"values":[{"t":-30,"c":-0.0453,"c2":-0.0615},{"t":0,"c":-0.0453,"c2":-0.0615}]},
"mark":{"type":"rule","color":"#000","strokeWidth":2},
"encoding":{
"x":{"field":"t","type":"quantitative","scale":{"domain":[-90,80],"nice":false,"zero":false},"axis":null},
"y":{"field":"c","type":"quantitative","scale":{"domain":[-0.07,0.135],"nice":false,"zero":false},"axis":null},
"y2":{"field":"c2"}}},
{"data":{"values":[{"t":-30,"c":-0.0634},{"t":0,"c":-0.0634}]},
"mark":{"type":"point","shape":"triangle-down","filled":true,"size":200,"color":"#000","opacity":1},
"encoding":{
"x":{"field":"t","type":"quantitative","scale":{"domain":[-90,80],"nice":false,"zero":false},"axis":null},
"y":{"field":"c","type":"quantitative","scale":{"domain":[-0.07,0.135],"nice":false,"zero":false},"axis":null}}},
{"data":{"values":[{"label":"B","t":-84,"c":-0.0562}]},
"mark":{"type":"text","font":"Liberation Sans","fontSize":52,"fontWeight":"bold","baseline":"alphabetic","align":"left","color":"#000"},
"encoding":{
"x":{"field":"t","type":"quantitative","scale":{"domain":[-90,80],"nice":false,"zero":false},"axis":null},
"y":{"field":"c","type":"quantitative","scale":{"domain":[-0.07,0.135],"nice":false,"zero":false},"axis":null},
"text":{"field":"label"}}},
{"data":{"values":[{}]},
"mark":{"type":"rect","fill":"white","stroke":"#555","strokeWidth":1.5},
"encoding":{
"x":{"datum":-100,"type":"quantitative","scale":{"domain":[-106.52,317.1],"nice":false,"zero":false},"axis":{"orient":"bottom","offset":-225,"values":[-60,0,60],"labelExpr":"(datum.value < 0 ? '-' : '') + format(abs(datum.value), 'd')","ticks":false,"domain":false,"labelFontSize":22,"labelPadding":6,"labelFlush":false,"labelOverlap":false,"title":"t (min)","titleFontSize":17,"titleX":51,"titleY":36,"zindex":1}},
"x2":{"datum":70},
"y":{"datum":4.926,"type":"quantitative","scale":{"domain":[4.28,5.49],"nice":false,"zero":false},"axis":{"orient":"right","offset":-322,"values":[4.95,5.0,5.05,5.1,5.15,5.2,5.25,5.3,5.35,5.4,5.45],"labelExpr":"abs(round(datum.value*100)) % 10 === 0 ? format(datum.value, '.1f') : ''","tickSize":3,"tickWidth":1.5,"tickColor":"#333","domain":false,"labelFontSize":22,"labelPadding":2,"labelOverlap":false,"title":"Cd (μF cm⁻²)","titleFontSize":17,"titleAngle":270,"titleBaseline":"top","titleY":67,"titlePadding":10,"zindex":1}},
"y2":{"datum":5.49}}},
{"data":{"name":"insetB"},
"mark":{"type":"point","filled":true,"size":42,"opacity":1,"strokeWidth":0},
"encoding":{
"x":{"field":"t","type":"quantitative","scale":{"domain":[-106.52,317.1],"nice":false,"zero":false},"axis":null},
"y":{"field":"c","type":"quantitative","scale":{"domain":[4.28,5.49],"nice":false,"zero":false},"axis":null},
"color":{"field":"s","type":"nominal","scale":{"domain":["-0.20 V","0.00 V","0.20 V"],"range":["#000000","#00ff00","#00ffff"]},
"legend":{"orient":"none","legendX":17,"legendY":15,"title":null,"padding":0,"symbolType":"circle","symbolSize":200,"symbolStrokeWidth":0,"symbolOffset":0,"labelFontSize":18,"labelOffset":17,"rowPadding":7.7,"labelLimit":200,"labelExpr":"indexof(datum.label, '-') === 0 ? datum.label : '\u00a0' + datum.label"}}}},
{"data":{"name":"fitB"},
"mark":{"type":"line","color":"#ff0000","strokeWidth":1.3,"interpolate":"monotone"},
"encoding":{
"x":{"field":"t","type":"quantitative","scale":{"domain":[-106.52,317.1],"nice":false,"zero":false},"axis":{"orient":"bottom","offset":-225,"values":[-90,-60,-30,0,30,60],"labels":false,"tickSize":-5,"tickWidth":1.5,"tickColor":"#333","domain":false,"title":null,"zindex":1}},
"y":{"field":"c","type":"quantitative","scale":{"domain":[4.28,5.49],"nice":false,"zero":false},"axis":null},
"detail":{"field":"s"}}}
]
}
]
}
